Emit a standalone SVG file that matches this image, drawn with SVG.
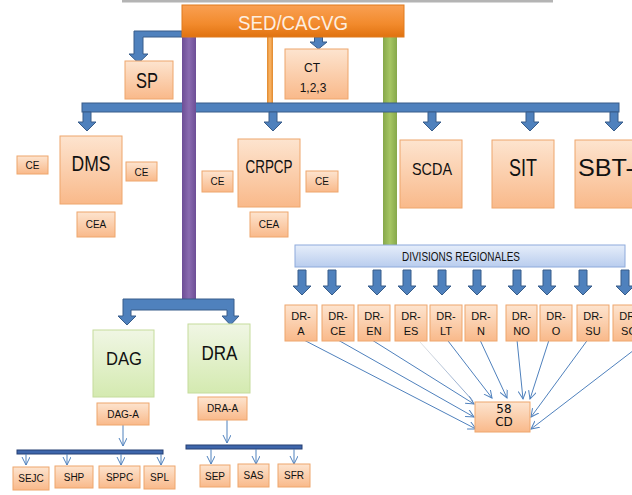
<svg xmlns="http://www.w3.org/2000/svg" xmlns:xlink="http://www.w3.org/1999/xlink" width="632" height="495" viewBox="0 0 632 495">
<defs>
<linearGradient id="gOr" x1="0" y1="0" x2="0" y2="1"><stop offset="0" stop-color="#fde4cf"/><stop offset="1" stop-color="#f9b98a"/></linearGradient>
<linearGradient id="gSed" x1="0" y1="0" x2="0" y2="1"><stop offset="0" stop-color="#f9a053"/><stop offset="0.6" stop-color="#f28a2c"/><stop offset="1" stop-color="#e0720f"/></linearGradient>
<linearGradient id="gGr" x1="0" y1="0" x2="0" y2="1"><stop offset="0" stop-color="#f0f6e4"/><stop offset="1" stop-color="#d4eab0"/></linearGradient>
<linearGradient id="gDiv" x1="0" y1="0" x2="0" y2="1"><stop offset="0" stop-color="#e6eefa"/><stop offset="1" stop-color="#b9cdee"/></linearGradient>
<linearGradient id="gPur" x1="0" y1="0" x2="1" y2="0"><stop offset="0" stop-color="#6d4e96"/><stop offset="0.5" stop-color="#8a6bb0"/><stop offset="1" stop-color="#6d4e96"/></linearGradient>
<linearGradient id="gGrn" x1="0" y1="0" x2="1" y2="0"><stop offset="0" stop-color="#86a84a"/><stop offset="0.5" stop-color="#a6c663"/><stop offset="1" stop-color="#86a84a"/></linearGradient>
<linearGradient id="gOrb" x1="0" y1="0" x2="1" y2="0"><stop offset="0" stop-color="#e0892e"/><stop offset="0.5" stop-color="#fbb566"/><stop offset="1" stop-color="#e0892e"/></linearGradient>
<linearGradient id="gFade" gradientUnits="userSpaceOnUse" x1="420" y1="342" x2="473" y2="402"><stop offset="0" stop-color="#e4e4e4"/><stop offset="1" stop-color="#7d9cc8"/></linearGradient>
<marker id="mh" markerWidth="10" markerHeight="10" refX="8" refY="4" orient="auto" markerUnits="userSpaceOnUse"><path d="M0,0 L8,4 L0,8" fill="none" stroke="#4f81bd" stroke-width="1"/></marker>
<path id="aMain" d="M-4,0 V10 H-9 L0,19 L9,10 H4 V0 Z"/>
<path id="aDR" d="M-4,0 V16 H-9 L0,25 L9,16 H4 V0 Z"/>
<style>
.or{fill:url(#gOr);stroke:#eea66d;stroke-width:1}
.gr{fill:url(#gGr);stroke:#c5dc9c;stroke-width:1}
.ba{fill:#4f81bd;stroke:#385d8a;stroke-width:1}
.db{fill:#3e66ab;stroke:#253f73;stroke-width:1}
.t{font-family:"Liberation Sans",Arial,sans-serif;fill:#111;text-anchor:middle}
.s{font-size:10px}
.d{font-size:11px}
.th{stroke:#4f81bd;stroke-width:1;fill:none;marker-end:url(#mh)}
</style>
</defs>
<rect width="632" height="495" fill="#fff"/>
<rect x="122" y="0" width="431" height="2.5" fill="#b4b4b4"/>

<g id="connectors">
<rect x="267" y="36" width="6" height="68" fill="url(#gOrb)"/>
<rect x="383" y="36" width="14" height="210" fill="url(#gGrn)"/>
<rect class="ba" x="82" y="103" width="537" height="9"/>
<use href="#aMain" class="ba" x="87" y="112"/>
<use href="#aMain" class="ba" x="273" y="112"/>
<use href="#aMain" class="ba" x="432" y="112"/>
<use href="#aMain" class="ba" x="530" y="112"/>
<use href="#aMain" class="ba" x="614" y="112"/>
<rect x="182" y="36" width="14" height="264" fill="url(#gPur)"/>
<path class="ba" d="M182,31 H134 V54 H129 L138.5,63 L148,54 H143 V37 H182 Z"/>
<path class="ba" d="M314.5,37 V42 H310 L318.5,49 L327,42 H322.5 V37 Z"/>
<path class="ba" d="M123,299 H234 V316 H239 L230.5,325 L222,316 H227 V310 H131 V316 H136 L127,325 L118,316 H123 Z"/>
<use href="#aDR" class="ba" x="302" y="270"/>
<use href="#aDR" class="ba" x="332" y="270"/>
<use href="#aDR" class="ba" x="377" y="270"/>
<use href="#aDR" class="ba" x="407" y="270"/>
<use href="#aDR" class="ba" x="442" y="270"/>
<use href="#aDR" class="ba" x="477" y="270"/>
<use href="#aDR" class="ba" x="517" y="270"/>
<use href="#aDR" class="ba" x="547" y="270"/>
<use href="#aDR" class="ba" x="583" y="270"/>
<use href="#aDR" class="ba" x="625" y="270"/>
<line class="th" x1="300" y1="338" x2="476" y2="429"/>
<line class="th" x1="338" y1="340" x2="474" y2="417"/>
<line class="th" x1="372" y1="340" x2="474" y2="404"/>
<line x1="420" y1="342" x2="473" y2="401" stroke="url(#gFade)" stroke-width="1"/>
<line class="th" x1="445" y1="337" x2="492" y2="398"/>
<line class="th" x1="480" y1="340" x2="507" y2="398"/>
<line class="th" x1="517" y1="340" x2="523" y2="399"/>
<line class="th" x1="549" y1="340" x2="530" y2="399"/>
<line class="th" x1="589" y1="338" x2="531" y2="417"/>
<line class="th" x1="634" y1="350" x2="531" y2="429"/>
<line class="th" x1="123" y1="425" x2="123" y2="446"/>
<rect class="db" x="17" y="450" width="146" height="4"/>
<line class="th" x1="26" y1="454" x2="26" y2="465"/>
<line class="th" x1="67" y1="454" x2="67" y2="465"/>
<line class="th" x1="121" y1="454" x2="121" y2="465"/>
<line class="th" x1="161" y1="454" x2="161" y2="465"/>
<line class="th" x1="227" y1="420" x2="227" y2="443"/>
<rect class="db" x="186" y="445" width="116" height="4"/>
<line class="th" x1="211" y1="449" x2="211" y2="464"/>
<line class="th" x1="256" y1="449" x2="256" y2="464"/>
<line class="th" x1="294" y1="449" x2="294" y2="464"/>
</g>

<g id="sed"><rect x="182" y="5" width="222" height="32" fill="url(#gSed)" stroke="#e07a1c"/><text class="t" x="293" y="30" font-size="21" textLength="110" lengthAdjust="spacingAndGlyphs" style="fill:#fdeee0">SED/CACVG</text></g>
<g id="sp"><rect class="or" x="125" y="61" width="48" height="38"/><text class="t" x="147" y="88" font-size="22" textLength="22" lengthAdjust="spacingAndGlyphs">SP</text></g>
<g id="ct"><rect class="or" x="285" y="49" width="63" height="50"/><text class="t" x="312" y="72" font-size="12">CT</text><text class="t" x="313" y="92" font-size="12">1,2,3</text></g>

<g id="dms"><rect class="or" x="60" y="136" width="62" height="68"/><text class="t" x="91" y="171" font-size="22" textLength="39" lengthAdjust="spacingAndGlyphs">DMS</text></g>
<g id="dms-ce1"><rect class="or" x="17" y="156" width="31" height="18"/><text class="t s" x="32.5" y="169">CE</text></g>
<g id="dms-ce2"><rect class="or" x="126" y="162" width="31" height="19"/><text class="t s" x="141.5" y="176">CE</text></g>
<g id="dms-cea"><rect class="or" x="77" y="212" width="38" height="25"/><text class="t s" x="96" y="228">CEA</text></g>

<g id="crpcp"><rect class="or" x="238" y="139" width="62" height="68"/><text class="t" x="269" y="173" font-size="19" textLength="47" lengthAdjust="spacingAndGlyphs">CRPCP</text></g>
<g id="crpcp-ce1"><rect class="or" x="202" y="171" width="31" height="21"/><text class="t s" x="217.5" y="185">CE</text></g>
<g id="crpcp-ce2"><rect class="or" x="306" y="171" width="32" height="21"/><text class="t s" x="322" y="185">CE</text></g>
<g id="crpcp-cea"><rect class="or" x="250" y="212" width="38" height="25"/><text class="t s" x="269" y="228">CEA</text></g>

<g id="scda"><rect class="or" x="400" y="140" width="62" height="68"/><text class="t" x="432" y="175" font-size="17" textLength="40" lengthAdjust="spacingAndGlyphs">SCDA</text></g>
<g id="sit"><rect class="or" x="492" y="140" width="62" height="68"/><text class="t" x="523" y="176" font-size="23" textLength="28" lengthAdjust="spacingAndGlyphs">SIT</text></g>
<g id="sbt"><rect class="or" x="575" y="140" width="62" height="68"/><text class="t" x="578" y="176" font-size="23" textLength="56" lengthAdjust="spacingAndGlyphs" style="text-anchor:start">SBT-</text></g>

<g id="divisions"><rect x="295" y="245" width="330" height="22" fill="url(#gDiv)" stroke="#8eaadb"/><text class="t" x="461" y="261" font-size="12" textLength="118" lengthAdjust="spacingAndGlyphs">DIVISIONS REGIONALES</text></g>

<g id="dr-a"><rect class="or" x="285" y="305" width="32" height="36"/><text class="t d" x="301" y="320">DR-</text><text class="t d" x="301" y="335">A</text></g>
<g id="dr-ce"><rect class="or" x="322" y="305" width="32" height="36"/><text class="t d" x="338" y="320">DR-</text><text class="t d" x="338" y="335">CE</text></g>
<g id="dr-en"><rect class="or" x="358" y="305" width="32" height="36"/><text class="t d" x="374" y="320">DR-</text><text class="t d" x="374" y="335">EN</text></g>
<g id="dr-es"><rect class="or" x="395" y="305" width="32" height="36"/><text class="t d" x="411" y="320">DR-</text><text class="t d" x="411" y="335">ES</text></g>
<g id="dr-lt"><rect class="or" x="430" y="305" width="32" height="36"/><text class="t d" x="446" y="320">DR-</text><text class="t d" x="446" y="335">LT</text></g>
<g id="dr-n"><rect class="or" x="465" y="305" width="32" height="36"/><text class="t d" x="481" y="320">DR-</text><text class="t d" x="481" y="335">N</text></g>
<g id="dr-no"><rect class="or" x="506" y="305" width="31" height="36"/><text class="t d" x="521.5" y="320">DR-</text><text class="t d" x="521.5" y="335">NO</text></g>
<g id="dr-o"><rect class="or" x="540" y="305" width="32" height="36"/><text class="t d" x="556" y="320">DR-</text><text class="t d" x="556" y="335">O</text></g>
<g id="dr-su"><rect class="or" x="577" y="305" width="32" height="36"/><text class="t d" x="593" y="320">DR-</text><text class="t d" x="593" y="335">SU</text></g>
<g id="dr-so"><rect class="or" x="613" y="305" width="32" height="36"/><text class="t d" x="629" y="320">DR-</text><text class="t d" x="629" y="335">SO</text></g>

<g id="cd58"><rect class="or" x="475" y="402" width="55" height="30"/><text class="t" x="504" y="413" font-size="12" style="font-family:'DejaVu Sans',sans-serif">58</text><text class="t" x="504" y="426" font-size="12" style="font-family:'DejaVu Sans',sans-serif">CD</text></g>

<g id="dag"><rect class="gr" x="93" y="330" width="61" height="67"/><text class="t" x="124" y="365" font-size="19" textLength="36" lengthAdjust="spacingAndGlyphs">DAG</text></g>
<g id="dra"><rect class="gr" x="188" y="324" width="62" height="69"/><text class="t" x="219.5" y="360" font-size="21" textLength="36" lengthAdjust="spacingAndGlyphs">DRA</text></g>
<g id="dag-a"><rect class="or" x="97" y="403" width="52" height="22"/><text class="t s" x="123" y="418">DAG-A</text></g>
<g id="dra-a"><rect class="or" x="198" y="397" width="49" height="23"/><text class="t s" x="222.5" y="412">DRA-A</text></g>

<g id="sejc"><rect class="or" x="13" y="467" width="36" height="23"/><text class="t s" x="31" y="482">SEJC</text></g>
<g id="shp"><rect class="or" x="55" y="466" width="38" height="22"/><text class="t s" x="74" y="481">SHP</text></g>
<g id="sppc"><rect class="or" x="99" y="466" width="41" height="22"/><text class="t s" x="119.5" y="481">SPPC</text></g>
<g id="spl"><rect class="or" x="144" y="466" width="31" height="23"/><text class="t s" x="159.5" y="481">SPL</text></g>
<g id="sep"><rect class="or" x="200" y="465" width="30" height="22"/><text class="t s" x="215" y="480">SEP</text></g>
<g id="sas"><rect class="or" x="238" y="464" width="31" height="23"/><text class="t s" x="253.5" y="479">SAS</text></g>
<g id="sfr"><rect class="or" x="278" y="464" width="32" height="23"/><text class="t s" x="294" y="479">SFR</text></g>
</svg>
